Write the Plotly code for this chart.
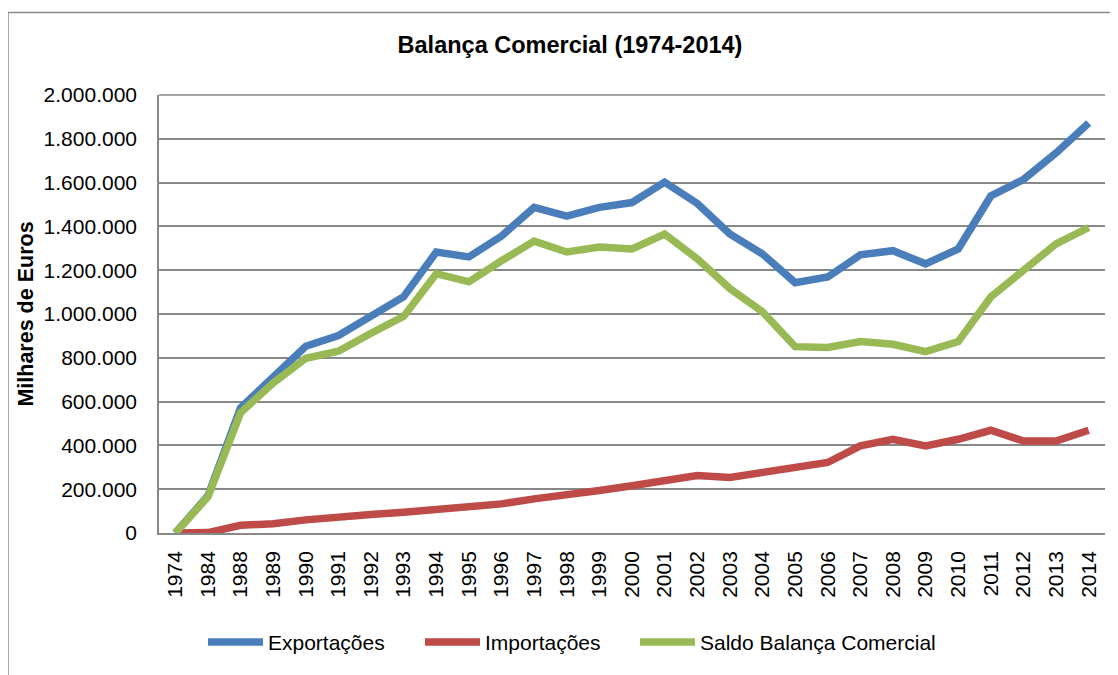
import plotly.graph_objects as go

anos = ["1974", "1984", "1988", "1989", "1990", "1991", "1992", "1993", "1994",
        "1995", "1996", "1997", "1998", "1999", "2000", "2001", "2002", "2003",
        "2004", "2005", "2006", "2007", "2008", "2009", "2010", "2011", "2012",
        "2013", "2014"]

exportacoes = [0, 170000, 571000, 716000, 853000, 902000, 993000, 1079000, 1283000,
               1261000, 1356000, 1487000, 1447000, 1487000, 1509000, 1602000, 1505000,
               1365000, 1274000, 1143000, 1169000, 1270000, 1289000, 1229000, 1297000,
               1539000, 1614000, 1735000, 1872000]

importacoes = [0, 2000, 35000, 42000, 60000, 76000, 85000, 95000, 106000,
               118000, 133000, 156000, 171000, 194000, 216000, 239000, 262000,
               254000, 277000, 292000, 322000, 398000, 428000, 398000, 428000,
               469000, 420000, 420000, 469000]

saldo = [0, 165000, 549000, 685000, 798000, 830000, 912000, 989000, 1184000,
         1147000, 1243000, 1333000, 1283000, 1306000, 1297000, 1365000, 1252000,
         1116000, 1010000, 851000, 847000, 874000, 862000, 828000, 874000,
         1078000, 1199000, 1320000, 1395000]

series_names = ["Exportações", "Importações", "Saldo Balança Comercial"]
series_colors = ["#4A7EBB", "#BE4B48", "#98B954"]
legend_ids = ["legend", "legend2", "legend3"]
legend_px = [203, 420, 635]

FONT = "Arial, Liberation Sans, sans-serif"
GRID = "#888888"

fig = go.Figure()
for name, vals, col, lg in zip(series_names, [exportacoes, importacoes, saldo],
                               series_colors, legend_ids):
    fig.add_trace(go.Scatter(x=anos, y=vals, name=name, mode="lines", legend=lg,
                             line=dict(color=col, width=7.5)))

# page has an 8px body margin: work in figure coordinates = page - 8
OFF = 8
W, H = 1118 - OFF, 675 - OFF
L, R, T, B = 159 - OFF, 13, 95 - OFF, 139
pw, ph = W - L - R, H - T - B

def px_x(p):
    return (p - OFF - L) / pw

def px_y(p):
    return (H - B - (p - OFF)) / ph

legend_common = dict(orientation="h", xanchor="left", y=px_y(646), yanchor="middle",
                     font=dict(size=21, family=FONT), bgcolor="rgba(0,0,0,0)",
                     itemwidth=55)

fig.update_layout(
    width=W, height=H,
    margin=dict(l=L, r=R, t=T, b=B),
    paper_bgcolor="white", plot_bgcolor="white",
    separators=",.",
    font=dict(family=FONT, color="black", size=21),
    title=dict(text="<b>Balança Comercial (1974-2014)</b>", x=(570 - OFF) / W, xanchor="center",
               y=1 - (45 - OFF) / H, yanchor="middle", font=dict(size=23.5, family=FONT)),
    showlegend=True,
    legend=dict(x=px_x(legend_px[0]), **legend_common),
    legend2=dict(x=px_x(legend_px[1]), **legend_common),
    legend3=dict(x=px_x(legend_px[2]), **legend_common),
    xaxis=dict(type="category", range=[-0.5, len(anos) - 0.5], tickangle=-90,
               showgrid=False, showline=True, linecolor=GRID, linewidth=1.5,
               ticks="", tickfont=dict(size=21, family=FONT), ticklabelstandoff=8,
               fixedrange=True),
    yaxis=dict(range=[0, 2000000], dtick=200000, tickformat=",d",
               showgrid=True, gridcolor=GRID, gridwidth=1.5,
               showline=True, linecolor=GRID, linewidth=1.5, zeroline=False,
               ticks="", tickfont=dict(size=21, family=FONT), ticklabelstandoff=16,
               title=dict(text="<b>Milhares de Euros</b>", font=dict(size=21.5, family=FONT),
                          standoff=4),
               automargin=False, fixedrange=True),
    shapes=[
        dict(type="line", xref="paper", yref="paper", x0=px_x(8), x1=px_x(8),
             y0=px_y(12), y1=px_y(690), line=dict(color=GRID, width=1.5)),
        dict(type="line", xref="paper", yref="paper", x0=px_x(8), x1=px_x(1130),
             y0=px_y(12), y1=px_y(12), line=dict(color=GRID, width=1.5)),
        dict(type="line", xref="paper", yref="paper", x0=0, x1=1,
             y0=1, y1=1, line=dict(color=GRID, width=1.5)),
    ],
)

fig.write_html("out.html")
